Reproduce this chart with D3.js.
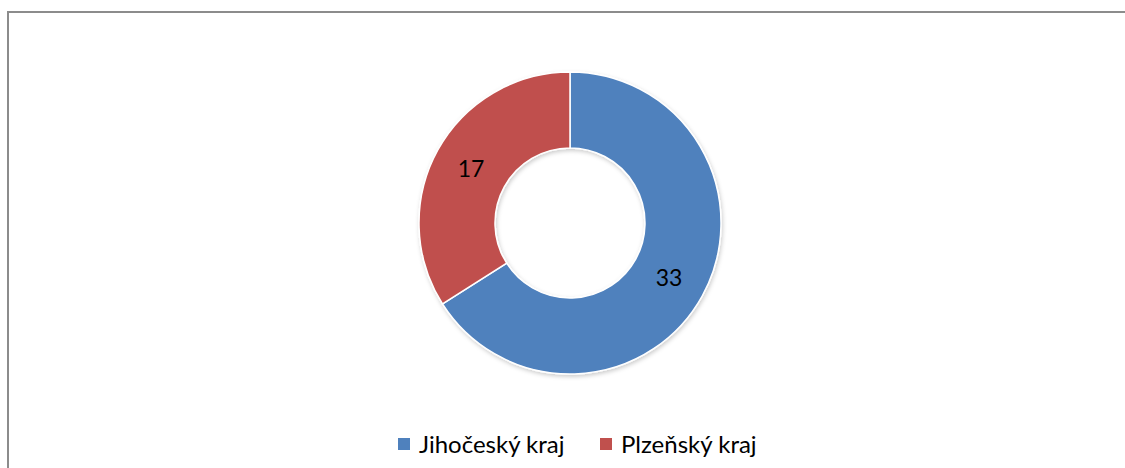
<!DOCTYPE html>
<html>
<head>
<meta charset="utf-8">
<script src="https://cdn.jsdelivr.net/npm/d3@7"></script>
<style>
  body { margin: 0; background: #fff; }
  svg { display: block; font-family: Lato, "Open Sans", sans-serif; }
</style>
</head>
<body>
<svg id="chart" width="1125" height="468"></svg>
<script>
var categories = ["Jihočeský kraj", "Plzeňský kraj"];
var values = [33, 17];
var colors = ["#4f81bd", "#c0504d"];

var svg = d3.select("#chart"),
    width = +svg.attr("width"),
    height = +svg.attr("height");

// chart area frame (only top and left edges visible)
svg.append("path")
    .attr("d", "M8,468 V12 H1125")
    .attr("fill", "none")
    .attr("stroke", "#8c8c8c")
    .attr("stroke-width", 2);

var defs = svg.append("defs");
var f = defs.append("filter").attr("id", "shadow")
    .attr("x", "-10%").attr("y", "-10%").attr("width", "120%").attr("height", "120%");
f.append("feDropShadow")
    .attr("dx", 1).attr("dy", 2).attr("stdDeviation", 2)
    .attr("flood-color", "#000").attr("flood-opacity", 0.2);

var cx = 570, cy = 223,
    outerR = 151, innerR = 75;

var color = d3.scaleOrdinal().domain(categories).range(colors);

var pie = d3.pie()
    .sort(null)
    .value(function(d) { return d.value; });

var arc = d3.arc()
    .outerRadius(outerR)
    .innerRadius(innerR);

var data = categories.map(function(c, i) { return { name: c, value: values[i] }; });

var g = svg.append("g")
    .attr("transform", "translate(" + cx + "," + cy + ")");

var slices = g.append("g").attr("filter", "url(#shadow)")
    .selectAll(".arc")
    .data(pie(data))
    .enter().append("g")
    .attr("class", "arc");

slices.append("path")
    .attr("d", arc)
    .attr("fill", function(d) { return color(d.data.name); })
    .attr("stroke", "#fff")
    .attr("stroke-width", 1.5);

g.selectAll(".label")
    .data(pie(data))
    .enter().append("text")
    .attr("class", "label")
    .attr("transform", function(d) { return "translate(" + arc.centroid(d) + ")"; })
    .attr("text-anchor", "middle")
    .attr("dy", "0.36em")
    .attr("font-size", "23px")
    .attr("fill", "#000")
    .text(function(d) { return d.value; });

// legend
var legend = svg.append("g").attr("class", "legend");
var legendX = [398, 600];
var item = legend.selectAll(".item")
    .data(categories)
    .enter().append("g")
    .attr("class", "item")
    .attr("transform", function(d, i) { return "translate(" + legendX[i] + ",432)"; });

item.append("rect")
    .attr("y", 6)
    .attr("width", 12)
    .attr("height", 12)
    .attr("fill", function(d) { return color(d); });

item.append("text")
    .attr("x", 21)
    .attr("y", 13)
    .attr("dy", "0.35em")
    .attr("font-size", "24px")
    .attr("fill", "#000")
    .text(function(d) { return d; });
</script>
</body>
</html>
